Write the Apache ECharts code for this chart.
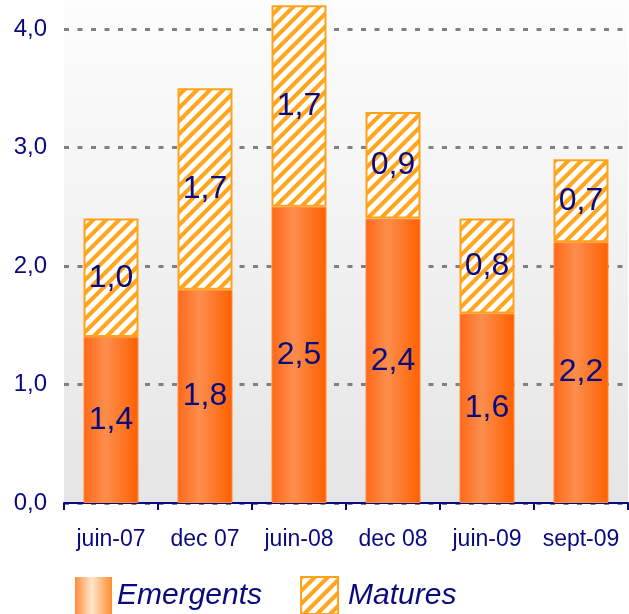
<!DOCTYPE html>
<html>
<head>
<meta charset="utf-8">
<script src="https://cdn.jsdelivr.net/npm/echarts@6/dist/echarts.min.js"></script>
<style>html,body{margin:0;padding:0;background:#fff;}#c{width:629px;height:614px;}</style>
</head>
<body>
<div id="c"></div>
<script>
var categories = ['juin-07', 'dec 07', 'juin-08', 'dec 08', 'juin-09', 'sept-09'];
var emergents = [1.4, 1.8, 2.5, 2.4, 1.6, 2.2];
var matures = [1.0, 1.7, 1.7, 0.9, 0.8, 0.7];
var yTicks = [0, 1, 2, 3, 4];

var NAVY = '#0a0a80';

function stripeCanvas() {
  var P = 13;
  var cv = document.createElement('canvas');
  cv.width = P; cv.height = P;
  var ctx = cv.getContext('2d');
  var img = ctx.createImageData(P, P);
  for (var y = 0; y < P; y++) {
    for (var x = 0; x < P; x++) {
      var t = ((x + y) % P) / P;
      var c = Math.cos(2 * Math.PI * t);
      var a = Math.max(0, Math.min(1, (c + 0.2) * 1.3));
      var r = 255, g = Math.round(255 - (255 - 165) * a), b = Math.round(255 - (255 - 30) * a);
      var i = (y * P + x) * 4;
      img.data[i] = r; img.data[i + 1] = g; img.data[i + 2] = b; img.data[i + 3] = 255;
    }
  }
  ctx.putImageData(img, 0, 0);
  return cv;
}

var fmt = function (v) { return Number(v).toFixed(1).replace('.', ','); };

var emergGrad = new echarts.graphic.LinearGradient(0, 0, 1, 0, [
  { offset: 0, color: '#ff6818' },
  { offset: 0.4, color: '#fc8e4c' },
  { offset: 1, color: '#ff6000' }
]);
var emergLegendGrad = new echarts.graphic.LinearGradient(0, 0, 1, 0, [
  { offset: 0, color: '#ff8c38' },
  { offset: 0.45, color: '#ffe6cc' },
  { offset: 1, color: '#ff8c30' }
]);
var pattern = { image: stripeCanvas(), repeat: 'repeat' };

var chart = echarts.init(document.getElementById('c'), null, { renderer: 'canvas' });
chart.setOption({
  animation: false,
  textStyle: { fontFamily: 'Liberation Sans, Arial, sans-serif' },
  grid: {
    left: 64, right: 1, bottom: 111, top: 0,
    show: true, borderWidth: 0,
    backgroundColor: new echarts.graphic.LinearGradient(0, 0, 0, 1, [
      { offset: 0, color: '#fdfdfd' },
      { offset: 1, color: '#e5e5e5' }
    ])
  },
  legend: {
    left: 70, top: 571,
    itemWidth: 37, itemHeight: 37, itemGap: 38,
    textStyle: { fontSize: 30, fontStyle: 'italic', color: NAVY, fontFamily: 'Liberation Sans, Arial, sans-serif' },
    data: [
      { name: 'Emergents', icon: 'rect', itemStyle: { color: emergLegendGrad, borderWidth: 0 } },
      { name: 'Matures', icon: 'rect', itemStyle: { color: pattern, borderColor: '#ffa21a', borderWidth: 2 },
        textStyle: { padding: [0, 0, 0, 5] } }
    ]
  },
  xAxis: {
    type: 'category',
    data: categories,
    axisLine: { lineStyle: { color: NAVY, width: 2 } },
    axisTick: { show: true, length: 7, lineStyle: { color: NAVY, width: 2 } },
    axisLabel: { color: NAVY, fontSize: 23, margin: 25, interval: 0 }
  },
  yAxis: {
    type: 'value',
    min: 0, max: 4.245, interval: 1,
    axisLine: { show: false },
    axisTick: { show: false },
    axisLabel: {
      color: NAVY, fontSize: 24, margin: 17, showMaxLabel: false,
      formatter: function (v) { return yTicks.indexOf(v) >= 0 ? fmt(v) : ''; }
    },
    splitLine: { show: true, showMaxLine: false, lineStyle: { color: '#808080', width: 3, type: [5, 8.5] } }
  },
  series: [
    {
      name: 'Emergents', type: 'bar', stack: 'total', barWidth: 55,
      data: emergents,
      itemStyle: { color: emergGrad, borderColor: '#ff8a40', borderWidth: 1 },
      label: { show: true, position: 'inside', color: NAVY, fontSize: 32, formatter: function (p) { return fmt(p.value); } }
    },
    {
      name: 'Matures', type: 'bar', stack: 'total', barWidth: 55,
      data: matures,
      itemStyle: { color: pattern, borderColor: '#ffa21a', borderWidth: 2 },
      label: { show: true, position: 'inside', color: NAVY, fontSize: 32, formatter: function (p) { return fmt(p.value); } }
    }
  ]
});
</script>
</body>
</html>
